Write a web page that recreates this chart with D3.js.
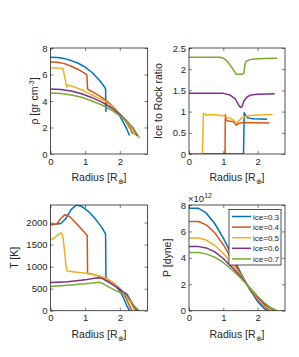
<!DOCTYPE html>
<html>
<head>
<meta charset="utf-8">
<script src="https://cdn.jsdelivr.net/npm/d3@7"></script>
<style>
  body { margin: 0; background: #fff; }
  text { font-family: "Liberation Sans", Arial, sans-serif; fill: #262626; }
</style>
</head>
<body>
<svg id="chart" width="299" height="357"></svg>
<script>
// series names and colours (MATLAB default order)
var iceNames = ["ice=0.3", "ice=0.4", "ice=0.5", "ice=0.6", "ice=0.7"];
var iceColors = ["#0072BD", "#D95319", "#EDB120", "#7E2F8E", "#77AC30"];
var radiusTicks = [0, 1, 2];

// density [gr cm^-3] vs radius [R_earth]
var rho03 = [[0,7.3],[0.2,7.28],[0.4,7.2],[0.6,7.05],[0.8,6.85],[1.0,6.55],[1.2,6.15],[1.4,5.6],[1.55,5.1],[1.59,4.92],[1.6,3.2],[1.61,3.95],[1.7,3.75],[1.8,3.5],[1.9,3.2],[2.0,2.85],[2.1,2.4],[2.2,1.9],[2.28,1.4]];
var rho04 = [[0,6.95],[0.2,6.92],[0.4,6.82],[0.6,6.62],[0.8,6.38],[1.0,6.07],[1.05,5.97],[1.07,4.9],[1.2,4.7],[1.4,4.4],[1.6,4.05],[1.8,3.6],[2.0,3.02],[2.1,2.72],[2.2,2.35],[2.3,1.92],[2.37,1.5]];
var rho05 = [[0,6.5],[0.2,6.5],[0.36,6.45],[0.47,5.05],[0.5,5.2],[0.7,5.05],[0.9,4.85],[1.05,4.65],[1.2,4.45],[1.4,4.2],[1.6,3.95],[1.8,3.55],[2.0,3.02],[2.2,2.42],[2.35,1.9],[2.44,1.45]];
var rho06 = [[0,4.9],[0.3,4.87],[0.6,4.75],[0.9,4.55],[1.2,4.25],[1.5,3.9],[1.8,3.4],[2.0,3.0],[2.2,2.5],[2.4,1.9],[2.5,1.35]];
var rho07 = [[0,4.6],[0.3,4.57],[0.6,4.45],[0.9,4.28],[1.2,4.0],[1.5,3.68],[1.8,3.25],[2.0,2.9],[2.2,2.45],[2.4,1.9],[2.57,1.22]];

// ice to rock ratio vs radius
var ratio03 = [[0,0],[1.59,0],[1.61,0.98],[1.65,0.9],[1.7,0.86],[1.8,0.84],[1.9,0.83],[2.28,0.82]];
var ratio04 = [[0,0],[1.05,0],[1.06,0.93],[1.08,0.8],[1.15,0.78],[1.3,0.76],[1.38,0.68],[1.45,0.72],[1.55,0.74],[2.35,0.73]];
var ratio05 = [[0,0],[0.39,0],[0.42,0.96],[0.5,0.92],[0.7,0.93],[1.0,0.9],[1.2,0.84],[1.3,0.8],[1.38,0.72],[1.45,0.78],[1.55,0.86],[1.7,0.9],[2.0,0.92],[2.44,0.93]];
var ratio06 = [[0,1.43],[1.0,1.43],[1.2,1.39],[1.35,1.3],[1.45,1.15],[1.5,1.1],[1.55,1.12],[1.6,1.25],[1.7,1.35],[1.8,1.39],[2.0,1.41],[2.5,1.42]];
var ratio07 = [[0,2.28],[0.9,2.28],[1.0,2.26],[1.1,2.2],[1.2,2.1],[1.3,1.98],[1.38,1.88],[1.55,1.88],[1.6,1.9],[1.63,2.1],[1.66,2.18],[1.75,2.22],[1.9,2.24],[2.2,2.25],[2.57,2.26]];

// temperature [K] vs radius
var temp03 = [[0,1950],[0.3,1980],[0.45,2100],[0.6,2300],[0.75,2400],[0.9,2370],[1.1,2250],[1.3,2080],[1.5,1870],[1.59,1740],[1.6,730],[1.7,680],[1.8,620],[1.9,540],[2.0,450],[2.1,300],[2.2,120],[2.28,0]];
var temp04 = [[0,1950],[0.18,1970],[0.3,2100],[0.42,2180],[0.55,2140],[0.7,2020],[0.9,1850],[1.06,1710],[1.07,850],[1.2,830],[1.4,790],[1.6,730],[1.8,640],[2.0,500],[2.1,400],[2.2,250],[2.3,80],[2.35,0]];
var temp05 = [[0,1600],[0.15,1680],[0.3,1770],[0.35,1720],[0.4,1400],[0.45,1000],[0.48,900],[0.7,880],[0.9,860],[1.1,840],[1.3,810],[1.5,760],[1.7,690],[1.9,570],[2.1,420],[2.2,330],[2.3,200],[2.4,60],[2.44,0]];
var temp06 = [[0,640],[0.5,660],[1.0,700],[1.3,740],[1.4,750],[1.5,730],[1.7,640],[1.9,540],[2.1,420],[2.2,380],[2.3,250],[2.4,100],[2.5,0]];
var temp07 = [[0,550],[0.5,580],[1.0,610],[1.4,645],[1.5,620],[1.7,530],[1.9,450],[2.1,390],[2.2,330],[2.3,230],[2.45,80],[2.57,0]];

// pressure [x10^12 dyne] vs radius
var pres03 = [[0,7.75],[0.28,7.75],[0.5,7.4],[0.75,6.6],[1.0,5.5],[1.25,4.2],[1.5,2.9],[1.75,1.7],[2.0,0.7],[2.2,0.15],[2.28,0]];
var pres04 = [[0,6.75],[0.28,6.75],[0.5,6.5],[0.75,5.9],[1.0,5.0],[1.25,3.9],[1.5,2.8],[1.75,1.75],[2.0,0.85],[2.2,0.3],[2.35,0]];
var pres05 = [[0,5.5],[0.28,5.5],[0.5,5.35],[0.75,4.95],[1.0,4.35],[1.25,3.55],[1.5,2.7],[1.75,1.8],[2.0,0.95],[2.2,0.4],[2.44,0]];
var pres06 = [[0,4.85],[0.28,4.85],[0.5,4.75],[0.75,4.45],[1.0,3.95],[1.25,3.3],[1.5,2.6],[1.75,1.8],[2.0,1.05],[2.2,0.5],[2.5,0]];
var pres07 = [[0,4.4],[0.28,4.4],[0.5,4.3],[0.75,4.05],[1.0,3.65],[1.25,3.1],[1.5,2.5],[1.75,1.8],[2.0,1.1],[2.2,0.6],[2.4,0.2],[2.57,0]];

var svg = d3.select("#chart");

function drawPanel(p) {
  var x = d3.scaleLinear().domain([0, 2.8]).range([p.left, p.right]);
  var y = d3.scaleLinear().domain(p.yDomain).range([p.bottom, p.top]);
  var g = svg.append("g");

  g.append("clipPath").attr("id", p.id)
    .append("rect")
    .attr("x", p.left).attr("y", p.top)
    .attr("width", p.right - p.left).attr("height", p.bottom - p.top);

  var line = d3.line()
    .x(function(d) { return x(d[0]); })
    .y(function(d) { return y(d[1]); });

  g.append("g").attr("clip-path", "url(#" + p.id + ")")
    .selectAll("path")
    .data(p.series)
    .enter()
    .append("path")
    .attr("d", line)
    .attr("fill", "none")
    .attr("stroke", function(d, i) { return iceColors[i]; })
    .attr("stroke-width", 1.5)
    .attr("stroke-linejoin", "round");

  // axes, ticks pointing inside
  var bottom = g.append("g").attr("transform", "translate(0," + p.bottom + ")")
    .call(d3.axisBottom(x).tickValues(radiusTicks).tickSize(-3).tickPadding(4).tickFormat(d3.format("d")));
  var top = g.append("g").attr("transform", "translate(0," + p.top + ")")
    .call(d3.axisTop(x).tickValues(radiusTicks).tickSize(-3).tickFormat(""));
  var left = g.append("g").attr("transform", "translate(" + p.left + ",0)")
    .call(d3.axisLeft(y).tickValues(p.yTicks).tickSize(-3).tickPadding(3).tickFormat(p.fmt));
  var right = g.append("g").attr("transform", "translate(" + p.right + ",0)")
    .call(d3.axisRight(y).tickValues(p.yTicks).tickSize(-3).tickFormat(""));

  [bottom, top, left, right].forEach(function(a) {
    a.select(".domain").remove();
    a.selectAll("line").attr("stroke", "#262626").attr("stroke-width", 0.6);
    a.selectAll("text").style("font-size", "9.5px").attr("fill", "#262626");
  });

  g.append("rect")
    .attr("x", p.left).attr("y", p.top)
    .attr("width", p.right - p.left).attr("height", p.bottom - p.top)
    .attr("fill", "none").attr("stroke", "#262626").attr("stroke-width", 0.8);

  // x label: Radius [R_earth]
  var xl = g.append("text")
    .attr("x", (p.left + p.right) / 2).attr("y", p.bottom + 27)
    .attr("text-anchor", "middle").style("font-size", "10.5px");
  xl.append("tspan").text("Radius [R");
  xl.append("tspan").text("\u2295").attr("dy", 3).style("font-size", "7px");
  xl.append("tspan").text("]").attr("dy", -3);

  var yl = g.append("text")
    .attr("transform", "translate(" + p.ylabelX + "," + ((p.top + p.bottom) / 2) + ") rotate(-90)")
    .attr("text-anchor", "middle").style("font-size", "10.5px");
  p.ylabel(yl);

  return { x: x, y: y };
}

var fmtInt = d3.format("d");
var fmtRatio = function(d) { return d3.format("~g")(d); };

drawPanel({
  id: "c1", left: 50.5, right: 147.5, top: 48, bottom: 154,
  yDomain: [0, 8], yTicks: [0, 2, 4, 6, 8], fmt: fmtInt,
  series: [rho03, rho04, rho05, rho06, rho07], ylabelX: 38,
  ylabel: function(t) {
    t.append("tspan").text("\u03c1 [gr cm");
    t.append("tspan").text("-3").attr("dy", -4).style("font-size", "7px");
    t.append("tspan").text("]").attr("dy", 4);
  }
});

drawPanel({
  id: "c2", left: 189, right: 285, top: 48, bottom: 154,
  yDomain: [0, 2.5], yTicks: [0, 0.5, 1, 1.5, 2, 2.5], fmt: fmtRatio,
  series: [ratio03, ratio04, ratio05, ratio06, ratio07], ylabelX: 162,
  ylabel: function(t) { t.text("Ice to Rock ratio"); }
});

drawPanel({
  id: "c3", left: 50.5, right: 147.5, top: 205, bottom: 310.7,
  yDomain: [0, 2400], yTicks: [0, 500, 1000, 1500, 2000], fmt: fmtInt,
  series: [temp03, temp04, temp05, temp06, temp07], ylabelX: 18,
  ylabel: function(t) { t.text("T [K]"); }
});

drawPanel({
  id: "c4", left: 189, right: 285, top: 205, bottom: 310.7,
  yDomain: [0, 8], yTicks: [0, 2, 4, 6, 8], fmt: fmtInt,
  series: [pres03, pres04, pres05, pres06, pres07], ylabelX: 171,
  ylabel: function(t) { t.text("P [dyne]"); }
});

// exponent label above the pressure axis
var ex = svg.append("text").attr("x", 188).attr("y", 202).style("font-size", "9.5px");
ex.append("tspan").text("\u00d710");
ex.append("tspan").text("12").attr("dy", -4).style("font-size", "7px");

// legend
var legX = 229, legY = 209.5, legW = 52, legH = 55.5;
svg.append("rect").attr("x", legX).attr("y", legY).attr("width", legW).attr("height", legH)
  .attr("fill", "#fff").attr("stroke", "#262626").attr("stroke-width", 0.8);
var legend = svg.append("g").selectAll("g").data(iceNames).enter().append("g")
  .attr("transform", function(d, i) { return "translate(" + legX + "," + (legY + 7 + i * 10.6) + ")"; });
legend.append("line").attr("x1", 3).attr("x2", 22).attr("y1", 0).attr("y2", 0)
  .attr("stroke", function(d, i) { return iceColors[i]; }).attr("stroke-width", 1.5);
legend.append("text").attr("x", 24).attr("y", 3).style("font-size", "8px").text(function(d) { return d; });
</script>
</body>
</html>
